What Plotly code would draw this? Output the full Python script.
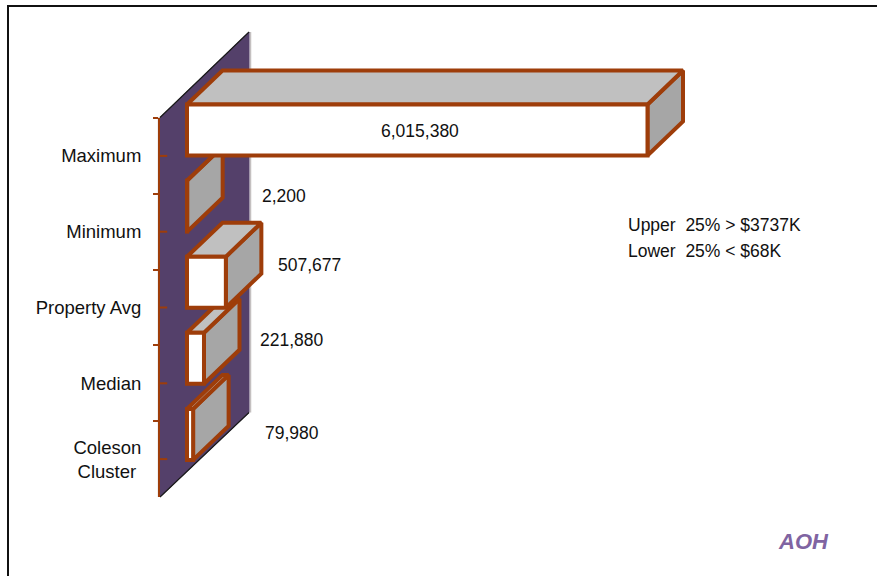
import plotly.graph_objects as go

categories = ["Maximum", "Minimum", "Property Avg", "Median", "Coleson<br>Cluster\u00a0"]
values = [6015380, 2200, 507677, 221880, 79980]
notes = ["Upper  25% > $3737K", "Lower  25% < $68K"]
credit = "AOH"

W, H = 877, 576
FONT = "Liberation Sans, Arial, sans-serif"
BROWN = "#9E3D0A"
WALL = "#54406A"
SIDE = "#A6A6A6"
TOP = "#C0C0C0"
SHADE = "#C4C0C0"
INK = "#111111"

# Projection of the chart's value/category space onto the page
X0_PX, X_PER_UNIT = 187.0, (647.5 - 187.0) / 6015380
Y0_PX, Y_PER_CAT = 130.0, 76.1
BAR_H = 51.0 / Y_PER_CAT
DX, DY = 35.5 / X_PER_UNIT, 34.0 / Y_PER_CAT
x_range = [-X0_PX / X_PER_UNIT, (W - X0_PX) / X_PER_UNIT]
y_range = [(H - Y0_PX) / Y_PER_CAT, -Y0_PX / Y_PER_CAT]

# Back wall, in the same units
wall_l = (160 - X0_PX) / X_PER_UNIT
wall_r = (249 - X0_PX) / X_PER_UNIT
wall_tf = (117.5 - Y0_PX) / Y_PER_CAT
wall_bf = (497 - Y0_PX) / Y_PER_CAT
wall_tb = (32 - Y0_PX) / Y_PER_CAT
wall_bb = (412.5 - Y0_PX) / Y_PER_CAT
shade = 1.5 / X_PER_UNIT

fig = go.Figure()
# soft shadow along the wall's vertical edges
fig.add_trace(go.Scatter(
    x=[wall_l - shade, wall_l - shade, None, wall_r + shade, wall_r + shade],
    y=[wall_tf, wall_bf, None, wall_tb, wall_bb],
    mode="lines", line=dict(color=SHADE, width=1.5), hoverinfo="skip", showlegend=False))
fig.add_trace(go.Scatter(
    x=[wall_l, wall_r, wall_r, wall_l, wall_l], y=[wall_tf, wall_tb, wall_bb, wall_bf, wall_tf],
    mode="lines", fill="toself", fillcolor=WALL, line=dict(color=WALL, width=1),
    hoverinfo="skip", showlegend=False))
fig.add_trace(go.Scatter(
    x=[wall_l, wall_r, None, wall_l, wall_r], y=[wall_tf, wall_tb, None, wall_bf, wall_bb],
    mode="lines", line=dict(color="#1a1a1a", width=1.2), hoverinfo="skip", showlegend=False))

# Depth faces, drawn bottom-up so that upper bars overlap lower ones
for i in reversed(range(len(values))):
    v = values[i]
    t, b = i - BAR_H / 2, i + BAR_H / 2
    fig.add_trace(go.Scatter(
        x=[v, v + DX, v + DX, v, v], y=[t, t - DY, b - DY, b, t],
        mode="lines", fill="toself", fillcolor=SIDE,
        line=dict(color=BROWN, width=4), hoverinfo="skip", showlegend=False))
    fig.add_trace(go.Scatter(
        x=[0, v, v + DX, DX, 0], y=[t, t, t - DY, t - DY, t],
        mode="lines", fill="toself", fillcolor=TOP,
        line=dict(color=BROWN, width=4), hoverinfo="skip", showlegend=False))

# Front faces of the bars
fig.add_trace(go.Bar(
    x=values, y=categories, orientation="h", width=BAR_H,
    marker=dict(color="white", line=dict(color=BROWN, width=4)),
    xaxis="x2", yaxis="y2", showlegend=False))

# Category axis on the front edge of the wall; short inner ticks at each category
x3_max = 1e7
fig.add_trace(go.Scatter(
    x=[3.0 * x3_max / (W - 160)] * len(categories), y=categories, mode="markers",
    marker=dict(symbol="line-ew", size=6, line=dict(color=BROWN, width=2)),
    xaxis="x3", yaxis="y3", cliponaxis=False, hoverinfo="skip", showlegend=False))

hidden = dict(visible=False, fixedrange=True)
fig.update_layout(
    width=W, height=H, margin=dict(l=0, r=0, t=0, b=0),
    paper_bgcolor="white", plot_bgcolor="rgba(0,0,0,0)",
    font=dict(family=FONT, size=18, color=INK),
    xaxis=dict(domain=[0, 1], range=x_range, **hidden),
    yaxis=dict(domain=[0, 1], range=y_range, **hidden),
    xaxis2=dict(domain=[0, 1], range=x_range, anchor="y2", **hidden),
    yaxis2=dict(domain=[0, 1], range=y_range, anchor="x2", type="category",
                categoryorder="array", categoryarray=categories, **hidden),
    xaxis3=dict(domain=[160 / W, 1], anchor="y3", range=[0, x3_max], **hidden),
    yaxis3=dict(domain=[(H - 497) / H, (H - 118) / H], anchor="x3", type="category",
                categoryorder="array", categoryarray=categories, range=[4.5, -0.5],
                showline=True, linecolor=BROWN, linewidth=2,
                ticks="outside", tickson="boundaries", ticklen=5, tickwidth=2, tickcolor=BROWN,
                ticklabelstandoff=13, showgrid=False, zeroline=False, fixedrange=True,
                tickfont=dict(family=FONT, size=18.5, color=INK)),
    shapes=[
        dict(type="line", xref="paper", yref="paper", x0=7 / W, x1=1,
             y0=(H - 6) / H, y1=(H - 6) / H, line=dict(color="#111111", width=2)),
        dict(type="line", xref="paper", yref="paper", x0=8 / W, x1=8 / W,
             y0=0, y1=(H - 6) / H, line=dict(color="#111111", width=2)),
    ],
)

value_label_px = [(420, 131), (284, 196), (309, 265), (292, 340), (292, 433)]
annotations = []
for v, (px, py) in zip(values, value_label_px):
    annotations.append(dict(text=f"{v:,}", xref="paper", yref="paper", x=px / W, y=(H - py) / H,
                            xanchor="center", yanchor="middle", showarrow=False,
                            font=dict(family=FONT, size=17.5, color=INK)))
for note, py in zip(notes, [225, 251]):
    annotations.append(dict(text=note, xref="paper", yref="paper", x=626 / W, y=(H - py) / H,
                            xanchor="left", yanchor="middle", showarrow=False,
                            font=dict(family=FONT, size=17.5, color=INK)))
annotations.append(dict(text=f"<b><i>{credit}</i></b>", xref="paper", yref="paper",
                        x=803 / W, y=(H - 541) / H, xanchor="center", yanchor="middle",
                        showarrow=False, font=dict(family=FONT, size=22, color="#8064A2")))
fig.update_layout(annotations=annotations)

fig.write_html("out.html", config={"displayModeBar": False},
               post_script="document.body.style.margin='0';document.body.style.overflow='hidden';")
